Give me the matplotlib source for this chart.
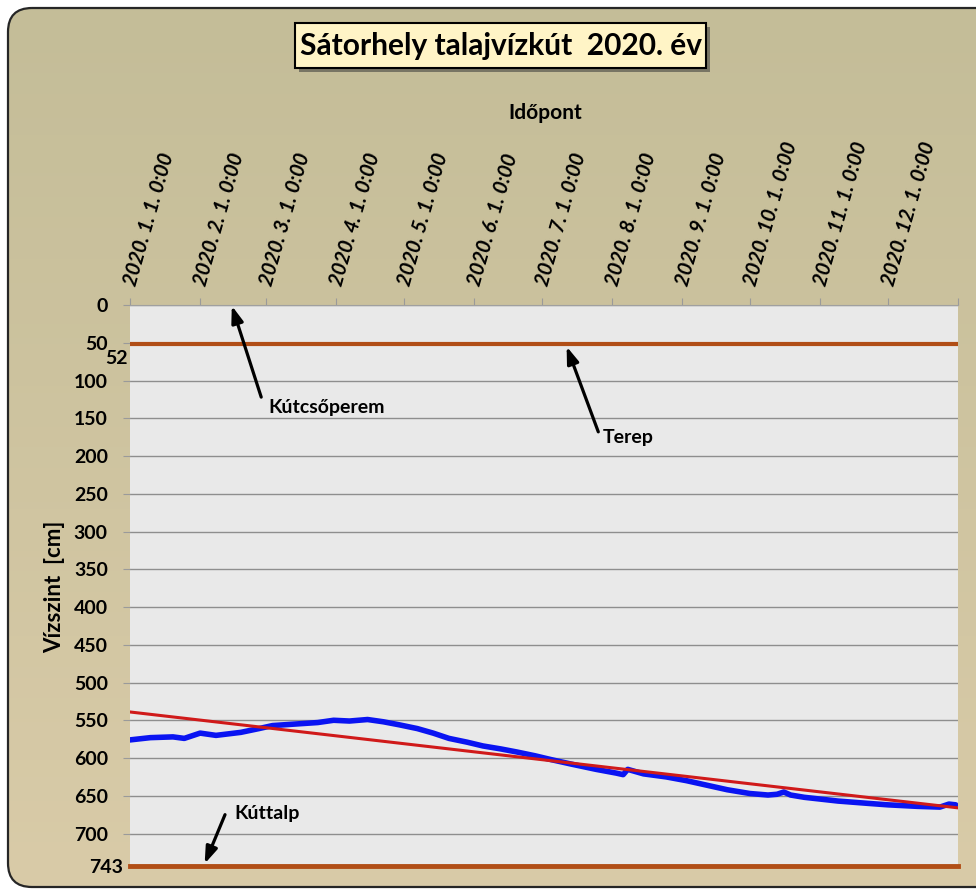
import matplotlib
matplotlib.use('Agg')
import matplotlib.pyplot as plt
import numpy as np
import pandas as pd
from matplotlib.patches import FancyBboxPatch, Rectangle
from matplotlib.colors import LinearSegmentedColormap

plt.rcParams['font.family'] = ['Lato', 'DejaVu Sans']

# ---------------- data ----------------
dates = ['2020-01-01', '2020-01-10', '2020-01-20', '2020-01-25', '2020-02-01', '2020-02-08',
         '2020-02-19', '2020-02-27', '2020-03-04', '2020-03-14', '2020-03-24', '2020-03-31',
         '2020-04-07', '2020-04-15', '2020-04-22', '2020-04-29', '2020-05-07', '2020-05-14',
         '2020-05-21', '2020-05-29', '2020-06-05', '2020-06-13', '2020-06-20', '2020-06-28',
         '2020-07-05', '2020-07-14', '2020-07-25', '2020-08-03', '2020-08-06', '2020-08-08',
         '2020-08-15', '2020-08-25', '2020-09-03', '2020-09-12', '2020-09-21', '2020-10-01',
         '2020-10-09', '2020-10-13', '2020-10-16', '2020-10-19', '2020-10-25', '2020-11-09',
         '2020-11-22', '2020-12-01', '2020-12-14', '2020-12-24', '2020-12-28', '2020-12-31']
levels = [576, 573, 572, 574, 567, 570,
          566, 561, 557, 555, 553, 550,
          551, 549, 552, 556, 561, 567,
          574, 579, 584, 588, 592, 597,
          602, 608, 615, 620, 622, 615,
          621, 625, 630, 636, 642, 647,
          649, 648, 645, 649, 652, 657,
          660, 662, 664, 665, 661, 662]

trend_dates = ['2020-01-01', '2021-01-01']
trend_levels = [539, 666]

terep_level = 52
kuttalp_level = 743

month_ticks = ['2020-01-01', '2020-02-01', '2020-03-01', '2020-04-01', '2020-05-01', '2020-06-01',
               '2020-07-01', '2020-08-01', '2020-09-01', '2020-10-01', '2020-11-01', '2020-12-01',
               '2021-01-01']
month_labels = ['2020. 1. 1. 0:00', '2020. 2. 1. 0:00', '2020. 3. 1. 0:00', '2020. 4. 1. 0:00',
                '2020. 5. 1. 0:00', '2020. 6. 1. 0:00', '2020. 7. 1. 0:00', '2020. 8. 1. 0:00',
                '2020. 9. 1. 0:00', '2020. 10. 1. 0:00', '2020. 11. 1. 0:00', '2020. 12. 1. 0:00', '']
y_ticks = [0, 50, 100, 150, 200, 250, 300, 350, 400, 450, 500, 550, 600, 650, 700]

title = 'Sátorhely talajvízkút  2020. év'
xlabel = 'Időpont'
ylabel = 'Vízszint  [cm]'

# ---------------- figure ----------------
W, H = 976, 889
fig = plt.figure(figsize=(W / 100, H / 100), dpi=100)
fig.patch.set_facecolor('white')

bg = fig.add_axes([0, 0, 1, 1], zorder=-10)
bg.set_axis_off()
bg.set_xlim(0, W)
bg.set_ylim(H, 0)
grad = np.linspace(0, 1, 256)[:, None]
cmap = LinearSegmentedColormap.from_list('bg', ['#C4BD98', '#D9CBA8'])
im = bg.imshow(grad, cmap=cmap, extent=[8, W + 30, 887, 8], aspect='auto', zorder=0)
frame = FancyBboxPatch((8, 8), W + 22, 879, boxstyle='round,pad=0,rounding_size=24',
                       facecolor='none', edgecolor='#262626', lw=1.6, zorder=2)
bg.add_patch(frame)
im.set_clip_path(frame)

# title box with shadow
bg.add_patch(Rectangle((299, 27), 411, 45, facecolor='#3a3a3a', alpha=0.55, edgecolor='none', zorder=3))
bg.add_patch(Rectangle((295, 23), 411, 45, facecolor='#FFF4C6', edgecolor='black', lw=1.5, zorder=4))
bg.text(500.5, 46, title, ha='center', va='center', fontsize=21.5, fontweight='bold',
        color='black', zorder=5)

# ---------------- main axes ----------------
L, T, R, B = 130, 305, 958, 866
ax = fig.add_axes([L / W, 1 - B / H, (R - L) / W, (B - T) / H])
ax.set_facecolor('#E9E9E9')

xd = pd.to_datetime(dates)
ax.plot(xd, levels, color='#0A14F2', lw=4, solid_capstyle='round', solid_joinstyle='round', zorder=4)
ax.plot(pd.to_datetime(trend_dates), trend_levels, color='#D01A1A', lw=2.2, zorder=5)
ax.axhline(terep_level, color='#B14E16', lw=3, zorder=3)
ax.axhline(kuttalp_level, color='#B14E16', lw=3.5, zorder=3, clip_on=False)

ax.set_xlim(pd.Timestamp('2020-01-01'), pd.Timestamp('2021-01-01'))
ax.set_ylim(743, 0)

ax.set_yticks(y_ticks)
ax.set_yticklabels([str(v) for v in y_ticks])
ax.yaxis.grid(True, color='#8E8E8E', lw=1)
ax.set_axisbelow(True)

ax.xaxis.tick_top()
ax.set_xticks(pd.to_datetime(month_ticks))
ax.set_xticklabels(month_labels)
ax.tick_params(axis='x', top=True, bottom=False, labeltop=True, labelbottom=False,
               length=5, color='#9A9A9A', pad=9, labelsize=14.5)
ax.tick_params(axis='y', left=True, length=5, color='#9A9A9A', pad=11, labelsize=14)
for lab in ax.get_xticklabels():
    lab.set_rotation(74)
    lab.set_rotation_mode('anchor')
    lab.set_ha('left')
    lab.set_va('center')
    lab.set_fontweight('bold')
    lab.set_fontstyle('italic')
for lab in ax.get_yticklabels():
    lab.set_fontweight('bold')

for s in ['left', 'right', 'bottom']:
    ax.spines[s].set_visible(False)
ax.spines['top'].set_color('#A0A0A0')

# extra level labels
t52 = ax.annotate(str(terep_level), xy=(0, terep_level), xycoords=('axes fraction', 'data'),
                  xytext=(-2, -10), textcoords='offset points', ha='right', va='center',
                  fontsize=14, annotation_clip=False)
t52.set_fontweight('bold')
t743 = ax.annotate(str(kuttalp_level), xy=(0, kuttalp_level), xycoords=('axes fraction', 'data'),
                   xytext=(-5, -1), textcoords='offset points', ha='right', va='center',
                   fontsize=14, annotation_clip=False)
t743.set_fontweight('bold')

# annotations
arrow = dict(arrowstyle='-|>,head_length=1.0,head_width=0.35', color='black', lw=2.3, shrinkA=0, shrinkB=0)
ax.annotate('', xy=(pd.Timestamp('2020-02-15'), 1), xytext=(pd.Timestamp('2020-02-28'), 122),
            arrowprops=arrow, annotation_clip=False)
ax.text(pd.Timestamp('2020-03-02'), 136, 'Kútcsőperem', fontsize=14, fontweight='bold', va='center', ha='left')

ax.annotate('', xy=(pd.Timestamp('2020-07-12'), 55), xytext=(pd.Timestamp('2020-07-26'), 168),
            arrowprops=arrow)
ax.text(pd.Timestamp('2020-07-28'), 176, 'Terep', fontsize=14, fontweight='bold', va='center', ha='left')

ax.annotate('', xy=(pd.Timestamp('2020-02-03'), 740), xytext=(pd.Timestamp('2020-02-12'), 675),
            arrowprops=arrow, annotation_clip=False)
ax.text(pd.Timestamp('2020-02-16'), 673, 'Kúttalp', fontsize=14, fontweight='bold', va='center', ha='left')

# axis titles
fig.text(545 / W, 1 - 113 / H, xlabel, ha='center', va='center', fontsize=15, fontweight='bold')
fig.text(55 / W, 1 - 587 / H, ylabel, ha='center', va='center', rotation=90, fontsize=16, fontweight='bold')

fig.savefig('out.png', dpi=100, facecolor='white')
